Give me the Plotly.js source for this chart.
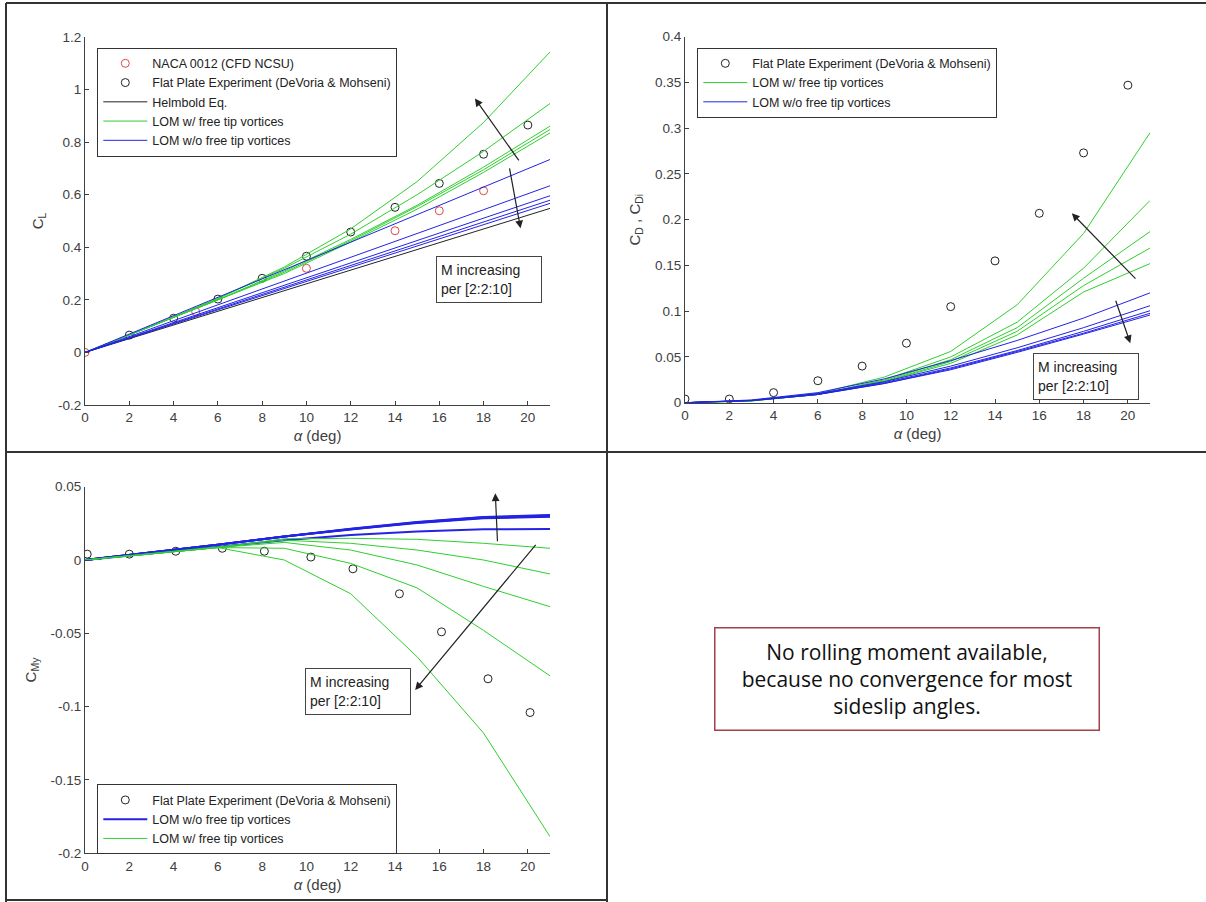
<!DOCTYPE html>
<html>
<head>
<meta charset="utf-8">
<script src="https://cdn.plot.ly/plotly-3.0.1.min.js"></script>
<style>
  html, body { margin: 0; padding: 0; background: #fff; }
  #chart { width: 1206px; height: 902px; }
</style>
</head>
<body>
<div id="chart"></div>
<script>
// ---------- data ----------
// angle of attack grid of the LOM runs (deg)
const alphaLOM = [0, 3, 6, 9, 12, 15, 18, 21];
const machSteps = [2, 4, 6, 8, 10];

// lift coefficient
const clNacaAlpha = [0, 5, 10, 14, 16, 18];
const clNaca = [0, 0.155, 0.32, 0.463, 0.539, 0.615];
const expAlpha = [0, 2, 4, 6, 8, 10, 12, 14, 16, 18, 20];
const clPlateAlpha = [2, 4, 6, 8, 10, 12, 14, 16, 18, 20];
const clPlate = [0.066, 0.13, 0.203, 0.282, 0.366, 0.458, 0.552, 0.643, 0.754, 0.865];
const clHelmbold = [0, 0.078, 0.157, 0.235, 0.313, 0.391, 0.47, 0.548];
// rows ordered M = 2, 4, 6, 8, 10
const clFree = [
  [0, 0.100, 0.198, 0.300, 0.420, 0.545, 0.685, 0.835],
  [0, 0.100, 0.200, 0.305, 0.425, 0.555, 0.695, 0.848],
  [0, 0.100, 0.200, 0.310, 0.430, 0.560, 0.705, 0.861],
  [0, 0.100, 0.205, 0.320, 0.450, 0.600, 0.765, 0.947],
  [0, 0.100, 0.205, 0.325, 0.470, 0.650, 0.875, 1.143]
];
const clNoFree = [
  [0, 0.105, 0.210, 0.315, 0.420, 0.525, 0.630, 0.734],
  [0, 0.090, 0.181, 0.272, 0.362, 0.453, 0.543, 0.634],
  [0, 0.085, 0.170, 0.255, 0.341, 0.426, 0.511, 0.596],
  [0, 0.083, 0.165, 0.248, 0.331, 0.414, 0.496, 0.579],
  [0, 0.081, 0.162, 0.243, 0.324, 0.405, 0.486, 0.567]
];

// drag / induced drag coefficient
const cdPlate = [0.004, 0.004, 0.011, 0.024, 0.040, 0.065, 0.105, 0.155, 0.207, 0.273, 0.347];
const cdFree = [
  [0, 0.002, 0.009, 0.023, 0.043, 0.074, 0.121, 0.152],
  [0, 0.002, 0.009, 0.023, 0.045, 0.078, 0.128, 0.169],
  [0, 0.002, 0.009, 0.024, 0.047, 0.082, 0.136, 0.187],
  [0, 0.002, 0.009, 0.025, 0.050, 0.088, 0.147, 0.221],
  [0, 0.002, 0.010, 0.028, 0.056, 0.107, 0.185, 0.295]
];
const cdNoFree = [
  [0, 0.003, 0.011, 0.026, 0.046, 0.068, 0.0925, 0.120],
  [0, 0.0025, 0.010, 0.023, 0.040, 0.060, 0.082, 0.106],
  [0, 0.0025, 0.0095, 0.022, 0.038, 0.057, 0.078, 0.1005],
  [0, 0.0023, 0.009, 0.021, 0.037, 0.056, 0.076, 0.0977],
  [0, 0.0023, 0.009, 0.021, 0.036, 0.055, 0.075, 0.0958]
];

// pitching moment coefficient
const cmPlateAlpha = [0.1, 2, 4.1, 6.2, 8.1, 10.2, 12.1, 14.2, 16.1, 18.2, 20.1];
const cmPlate = [0.004, 0.004, 0.006, 0.008, 0.006, 0.002, -0.006, -0.023, -0.049, -0.081, -0.104];
const cmNoFree = [
  [0, 0.0045, 0.009, 0.0135, 0.017, 0.0195, 0.0210, 0.0211],
  [0, 0.005, 0.0105, 0.016, 0.021, 0.0253, 0.0285, 0.0295],
  [0, 0.005, 0.0105, 0.016, 0.021, 0.0255, 0.0288, 0.0299],
  [0, 0.005, 0.0105, 0.016, 0.0212, 0.0257, 0.0291, 0.0303],
  [0, 0.005, 0.0105, 0.016, 0.0214, 0.0260, 0.0294, 0.0307]
];
const cmFree = [
  [0, 0.0045, 0.0085, 0.0145, 0.0148, 0.0141, 0.0114, 0.008],
  [0, 0.0045, 0.0085, 0.0135, 0.0114, 0.0068, 0.000, -0.0095],
  [0, 0.0045, 0.0085, 0.012, 0.0068, -0.0034, -0.018, -0.0318],
  [0, 0.0045, 0.0085, 0.008, -0.0023, -0.019, -0.048, -0.079],
  [0, 0.0045, 0.0085, 0.000, -0.023, -0.066, -0.118, -0.1886]
];

// tick labels
const alphaTicks = [0, 2, 4, 6, 8, 10, 12, 14, 16, 18, 20];
const clTickVals = [-0.2, 0, 0.2, 0.4, 0.6, 0.8, 1, 1.2];
const clTickText = ['-0.2', '0', '0.2', '0.4', '0.6', '0.8', '1', '1.2'];
const cdTickVals = [0, 0.05, 0.1, 0.15, 0.2, 0.25, 0.3, 0.35, 0.4];
const cdTickText = ['0', '0.05', '0.1', '0.15', '0.2', '0.25', '0.3', '0.35', '0.4'];
const cmTickVals = [-0.2, -0.15, -0.1, -0.05, 0, 0.05];
const cmTickText = ['-0.2', '-0.15', '-0.1', '-0.05', '0', '0.05'];

// ---------- styling ----------
const W = 1206, H = 902;
const GREEN = '#2fcf2f';
const BLUE = '#2323e6';
const AXC = '#404040';
const FONT = 'Liberation Sans, Arial, sans-serif';
const LEG_W_FREE = 'LOM w/ free tip vortices';
const LEG_WO_FREE = 'LOM w/o free tip vortices';
const LEG_PLATE = 'Flat Plate Experiment (DeVoria & Mohseni)';

const px = v => v / W;
const py = v => 1 - v / H;

function markers(x, y, color, name, xa, ya, legend) {
  return { type: 'scatter', mode: 'markers', x, y, name,
    xaxis: xa, yaxis: ya, legend,
    marker: { symbol: 'circle-open', size: 8, color, line: { width: 1, color } } };
}
function lines(rows, color, width, name, xa, ya, legend) {
  return rows.map((r, i) => ({ type: 'scatter', mode: 'lines', x: alphaLOM, y: r,
    name, xaxis: xa, yaxis: ya, legend, showlegend: i === 0,
    line: { color, width } }));
}

const traces = [
  // lift
  markers(clNacaAlpha, clNaca, '#e04848', 'NACA 0012 (CFD NCSU)', 'x', 'y', 'legend'),
  markers(clPlateAlpha, clPlate, '#222', LEG_PLATE, 'x', 'y', 'legend'),
  { type: 'scatter', mode: 'lines', x: alphaLOM, y: clHelmbold, name: 'Helmbold Eq.',
    xaxis: 'x', yaxis: 'y', legend: 'legend', line: { color: '#222', width: 1 } },
  ...lines(clFree, GREEN, 1, LEG_W_FREE, 'x', 'y', 'legend'),
  ...lines(clNoFree, BLUE, 1, LEG_WO_FREE, 'x', 'y', 'legend'),
  // drag
  markers(expAlpha, cdPlate, '#222', LEG_PLATE, 'x2', 'y2', 'legend2'),
  ...lines(cdFree, GREEN, 1, LEG_W_FREE, 'x2', 'y2', 'legend2'),
  ...lines(cdNoFree, BLUE, 1, LEG_WO_FREE, 'x2', 'y2', 'legend2'),
  // pitching moment
  markers(cmPlateAlpha, cmPlate, '#222', LEG_PLATE, 'x3', 'y3', 'legend3'),
  ...lines(cmNoFree, BLUE, 2, LEG_WO_FREE, 'x3', 'y3', 'legend3'),
  ...lines(cmFree, GREEN, 1, LEG_W_FREE, 'x3', 'y3', 'legend3')
];

const axBase = {
  showline: true, linecolor: AXC, linewidth: 1, mirror: false,
  ticks: 'inside', ticklen: 4, tickcolor: AXC, tickwidth: 1,
  showgrid: false, zeroline: false, fixedrange: true,
  tickfont: { family: FONT, size: 13.5, color: AXC }
};
const xTitle = { text: '<i>α</i> (deg)', font: { family: FONT, size: 15, color: AXC }, standoff: 6 };
function xAxis(domain, anchor) {
  return Object.assign({}, axBase, { domain, anchor, range: [0, 21],
    tickmode: 'array', tickvals: alphaTicks, title: xTitle });
}
function yAxis(domain, anchor, range, vals, text, title) {
  return Object.assign({}, axBase, { domain, anchor, range,
    tickmode: 'array', tickvals: vals, ticktext: text,
    title: { text: title, font: { family: FONT, size: 15, color: AXC }, standoff: 10 } });
}

const legBase = {
  xanchor: 'left', yanchor: 'top', bgcolor: '#fff', bordercolor: '#333', borderwidth: 1,
  font: { family: FONT, size: 12.5, color: '#222' }, tracegroupgap: 0, itemwidth: 44
};

function arrow(hx, hy, tx, ty, xa, ya) {
  return { x: hx, y: hy, ax: tx, ay: ty, xref: xa, yref: ya, axref: xa, ayref: ya,
    text: '', showarrow: true, arrowhead: 2, arrowsize: 1.3, arrowwidth: 1.2, arrowcolor: '#222' };
}
function note(x, y, xa, ya) {
  return { x, y, xref: xa, yref: ya, xanchor: 'left', yanchor: 'top', showarrow: false,
    text: 'M increasing<br>per [2:2:10]', align: 'left', width: 96, height: 37,
    bgcolor: '#fff', bordercolor: '#444', borderwidth: 1, borderpad: 4,
    font: { family: FONT, size: 14, color: '#222' } };
}

const frame = { type: 'line', xref: 'paper', yref: 'paper', line: { color: '#333', width: 2 } };
const shapes = [
  Object.assign({}, frame, { x0: px(6), x1: 1, y0: py(3), y1: py(3) }),
  Object.assign({}, frame, { x0: px(6), x1: px(6), y0: py(3), y1: 0 }),
  Object.assign({}, frame, { x0: px(607), x1: px(607), y0: py(3), y1: 0 }),
  Object.assign({}, frame, { x0: px(6), x1: 1, y0: py(452), y1: py(452) }),
  Object.assign({}, frame, { x0: px(6), x1: px(607), y0: py(900), y1: py(900) })
];

const layout = {
  width: W, height: H,
  margin: { l: 0, r: 0, t: 0, b: 0 },
  paper_bgcolor: '#fff', plot_bgcolor: '#fff',
  font: { family: FONT, color: AXC },
  showlegend: true,
  xaxis: xAxis([px(85), px(550)], 'y'),
  yaxis: yAxis([py(405), py(37)], 'x', [-0.2, 1.2], clTickVals, clTickText, 'C<sub>L</sub>'),
  xaxis2: xAxis([px(685), px(1150)], 'y2'),
  yaxis2: yAxis([py(402.7), py(36.7)], 'x2', [0, 0.4], cdTickVals, cdTickText, 'C<sub>D</sub> , C<sub>Di</sub>'),
  xaxis3: xAxis([px(85), px(550)], 'y3'),
  yaxis3: yAxis([py(853.3), py(486.7)], 'x3', [-0.2, 0.05], cmTickVals, cmTickText, 'C<sub>My</sub>'),
  legend: Object.assign({}, legBase, { x: px(97.3), y: py(47.7) }),
  legend2: Object.assign({}, legBase, { x: px(697.3), y: py(47.7) }),
  legend3: Object.assign({}, legBase, { x: px(97.3), y: py(784.3) }),
  shapes,
  annotations: [
    arrow(17.61, 0.966, 19.64, 0.725, 'x', 'y'),
    arrow(19.67, 0.472, 19.16, 0.706, 'x', 'y'),
    note(15.85, 0.367, 'x', 'y'),
    arrow(17.47, 0.207, 20.41, 0.134, 'x2', 'y2'),
    arrow(20.11, 0.065, 19.43, 0.113, 'x2', 'y2'),
    note(15.71, 0.054, 'x2', 'y2'),
    arrow(18.53, 0.0455, 18.63, 0.0118, 'x3', 'y3'),
    arrow(14.91, -0.0886, 20.41, 0.0114, 'x3', 'y3'),
    note(9.94, -0.0738, 'x3', 'y3'),
    { x: px(906.5), y: py(678.5), xref: 'paper', yref: 'paper', xanchor: 'center', yanchor: 'middle',
      showarrow: false, align: 'center', width: 381, height: 99,
      text: 'No rolling moment available,<br>because no convergence for most<br>sideslip angles.',
      bgcolor: '#fff', bordercolor: '#a2404c', borderwidth: 1.5, borderpad: 1,
      font: { family: 'Open Sans, Noto Sans, sans-serif', size: 21, color: '#111' } }
  ]
};

Plotly.newPlot('chart', traces, layout, { displayModeBar: false, staticPlot: true });
</script>
</body>
</html>
